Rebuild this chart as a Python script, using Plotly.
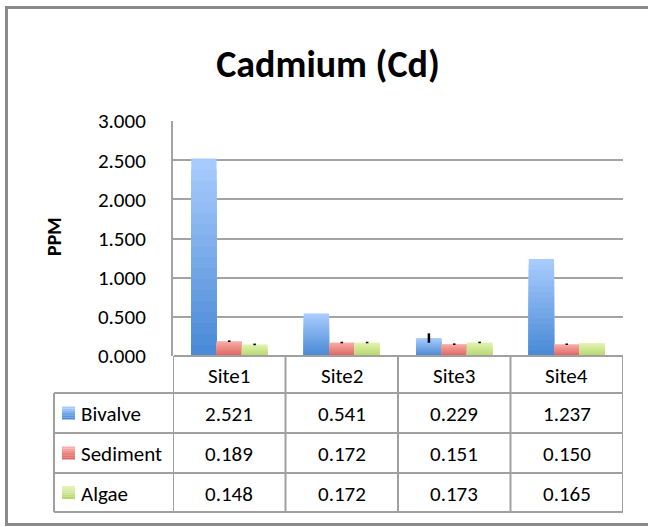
import plotly.graph_objects as go

# ---------------- data ----------------
sites = ["Site1", "Site2", "Site3", "Site4"]
series_names = ["Bivalve", "Sediment", "Algae"]
bivalve = [2.521, 0.541, 0.229, 1.237]
sediment = [0.189, 0.172, 0.151, 0.150]
algae = [0.148, 0.172, 0.173, 0.165]
bivalve_err = [0.0, 0.0, 0.06, 0.0]
sediment_err = [0.01, 0.01, 0.01, 0.01]
algae_err = [0.01, 0.01, 0.01, 0.0]
y_ticks = [0, 0.5, 1.0, 1.5, 2.0, 2.5, 3.0]
y_tick_labels = ["0.000", "0.500", "1.000", "1.500", "2.000", "2.500", "3.000"]

values = [bivalve, sediment, algae]
errors = [bivalve_err, sediment_err, algae_err]

# ---------------- style ----------------
W, H = 648, 527
PL, PR, PT, PB = 173, 623, 121, 356  # plot area in pixels
FONT = "Carlito, Calibri, Lato, sans-serif"
FS = 21
GRID = "#a3a3a3"
grad = [((167, 203, 253), (74, 138, 214)),
        ((249, 172, 168), (222, 102, 96)),
        ((226, 244, 176), (183, 215, 112))]


def mix(c1, c2, t):
    return "rgb(%d,%d,%d)" % tuple(round(a + (b - a) * t) for a, b in zip(c1, c2))


def px(x):
    return (x - PL) / (PR - PL)


def py(y):
    return (PB - y) / (PB - PT)


fig = go.Figure()
N = 18
for s, (name, vals, errs) in enumerate(zip(series_names, values, errors)):
    top, bot = grad[s]
    for k in range(N):
        f = 1 - k / N
        fig.add_trace(go.Bar(
            x=sites, y=[v * f for v in vals], name=name,
            offsetgroup=str(s), marker=dict(color=mix(top, bot, k / (N - 1)), line=dict(width=0)),
            showlegend=False, hoverinfo="skip"))
    fig.add_trace(go.Bar(
        x=sites, y=vals, name=name, offsetgroup=str(s),
        marker=dict(color="rgba(0,0,0,0)", line=dict(width=0)),
        error_y=dict(type="data", array=errs, visible=True, color="black", thickness=2.5, width=0),
        showlegend=False))

shapes = []
annotations = []
LINE = dict(color="#a0a0a0", width=2)

# outer frame (right edge runs off the page, as in the reference)
shapes.append(dict(type="rect", xref="paper", yref="paper", x0=px(6.5), x1=px(660), y0=py(524.5), y1=py(7.5),
                   line=dict(color="#8a8a8a", width=3), layer="below"))

# data table
row_y = [356, 393, 433, 473, 512]
shapes.append(dict(type="line", xref="paper", yref="paper", x0=px(174), x1=px(PR), y0=py(356), y1=py(356), line=LINE))
for i in range(len(sites) + 1):
    shapes.append(dict(type="line", xref="x", yref="paper", x0=i - 0.5, x1=i - 0.5,
                       y0=py(row_y[0]), y1=py(row_y[-1]), line=LINE))
shapes.append(dict(type="line", xref="paper", yref="paper", x0=px(54), x1=px(54),
                   y0=py(row_y[1]), y1=py(row_y[-1]), line=LINE))
for yy in row_y[1:]:
    shapes.append(dict(type="line", xref="paper", yref="paper", x0=px(54), x1=px(PR), y0=py(yy), y1=py(yy), line=LINE))

for i, s in enumerate(sites):
    annotations.append(dict(x=s, xref="x", y=py((row_y[0] + row_y[1]) / 2 + 1), yref="paper",
                            text=s, showarrow=False, font=dict(family=FONT, size=FS, color="black"),
                            xanchor="center", yanchor="middle"))
for r, (name, vals) in enumerate(zip(series_names, values)):
    yc = (row_y[r + 1] + row_y[r + 2]) / 2
    top, bot = grad[r]
    for k in range(6):
        shapes.append(dict(type="rect", xref="paper", yref="paper",
                           x0=px(62), x1=px(75), y0=py(yc + 6.5 - k * 13 / 6 - 13 / 6), y1=py(yc + 6.5 - k * 13 / 6),
                           fillcolor=mix(bot, top, k / 5), line=dict(width=0)))
    annotations.append(dict(x=px(79), xref="paper", y=py(yc + 1), yref="paper", text=name, showarrow=False,
                            font=dict(family=FONT, size=FS, color="black"), xanchor="left", yanchor="middle"))
    for i, v in enumerate(vals):
        annotations.append(dict(x=sites[i], xref="x", y=py(yc + 1), yref="paper", text="%.3f" % v,
                                showarrow=False, font=dict(family=FONT, size=FS, color="black"),
                                xanchor="center", yanchor="middle"))

annotations.append(dict(x=px(54), xref="paper", y=py(237), yref="paper", text="<b>PPM</b>", textangle=-90,
                        showarrow=False, font=dict(family=FONT, size=20, color="black"),
                        xanchor="center", yanchor="middle"))

fig.update_layout(
    width=W, height=H,
    margin=dict(l=PL, r=W - PR, t=PT, b=H - PB, pad=0),
    paper_bgcolor="white", plot_bgcolor="white",
    barmode="group", bargap=0.324, bargroupgap=0,
    title=dict(text="<b>Cadmium (Cd)</b>", x=328 / W, xanchor="center", y=1 - 64 / H, yanchor="middle",
               font=dict(family=FONT, size=38, color="black")),
    xaxis=dict(range=[-0.5, 3.5], showticklabels=False, showgrid=False, zeroline=False, showline=False,
               ticks=""),
    yaxis=dict(range=[0, 3.0], tickvals=y_ticks, ticktext=y_tick_labels, showgrid=True, gridcolor=GRID,
               gridwidth=2, zeroline=False, showline=True, linecolor=GRID, linewidth=2,
               ticks="", ticklabelstandoff=21,
               tickfont=dict(family=FONT, size=FS, color="black")),
    shapes=shapes, annotations=annotations,
    showlegend=False,
)

fig.write_html("out.html", config={"displayModeBar": False},
               post_script="document.body.style.margin='0';document.body.style.padding='0';")
